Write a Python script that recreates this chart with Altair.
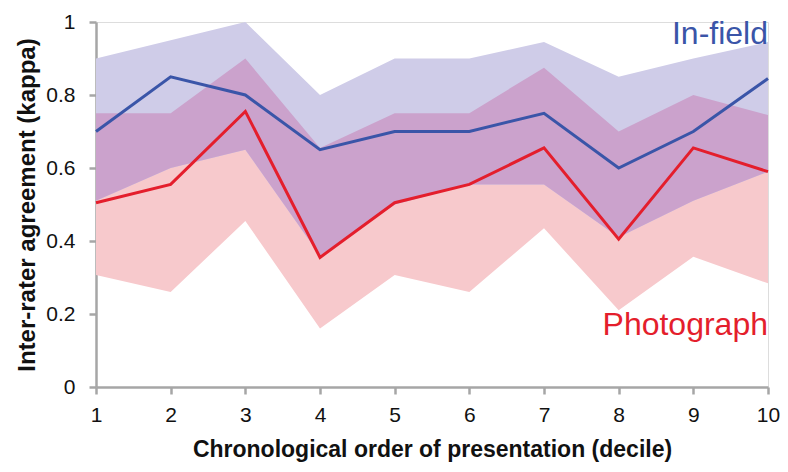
import altair as alt
import pandas as pd

decile = [1, 2, 3, 4, 5, 6, 7, 8, 9, 10]
infield_mean = [0.70, 0.85, 0.80, 0.65, 0.70, 0.70, 0.75, 0.60, 0.70, 0.845]
infield_upper = [0.90, 0.95, 1.00, 0.80, 0.90, 0.90, 0.945, 0.85, 0.90, 0.945]
infield_lower = [0.51, 0.60, 0.65, 0.36, 0.50, 0.555, 0.555, 0.41, 0.51, 0.59]
photo_mean = [0.505, 0.555, 0.755, 0.355, 0.505, 0.555, 0.655, 0.405, 0.655, 0.59]
photo_upper = [0.75, 0.75, 0.90, 0.655, 0.75, 0.75, 0.875, 0.70, 0.80, 0.745]
photo_lower = [0.307, 0.26, 0.455, 0.16, 0.307, 0.26, 0.435, 0.21, 0.357, 0.284]

y_ticks = [0, 0.2, 0.4, 0.6, 0.8, 1.0]

df = pd.DataFrame({
    "decile": decile,
    "in_mean": infield_mean, "in_up": infield_upper, "in_lo": infield_lower,
    "ph_mean": photo_mean, "ph_up": photo_upper, "ph_lo": photo_lower,
})

FONT = "Liberation Sans"
BLUE = "#3a55a8"
RED = "#e41e2c"

x_enc = alt.X("decile:Q",
              scale=alt.Scale(domain=[1, 10], nice=False),
              axis=alt.Axis(values=decile, format="d",
                            title="Chronological order of presentation (decile)",
                            grid=False, domainColor="#a6a6a6", domainWidth=2.5,
                            tickColor="#a6a6a6", tickWidth=2.5, tickSize=7,
                            labelFontSize=21, labelFont=FONT, labelColor="#111111",
                            labelPadding=10, labelFlush=False,
                            titleFont=FONT, titleFontSize=23, titleFontWeight="bold",
                            titleColor="#111111", titlePadding=13))
y_scale = alt.Scale(domain=[0, 1], nice=False)
y_axis = alt.Axis(values=y_ticks, title="Inter-rater agreement (kappa)", grid=False,
                  labelExpr="datum.value == 0 ? '0' : datum.value == 1 ? '1' : format(datum.value, '.1f')",
                  domainColor="#a6a6a6", domainWidth=2.5,
                  tickColor="#a6a6a6", tickWidth=2.5, tickSize=7,
                  labelFontSize=21, labelFont=FONT, labelColor="#111111",
                  labelPadding=14, labelFlush=False,
                  titleFont=FONT, titleFontSize=24, titleFontWeight="bold",
                  titleColor="#111111", titlePadding=6)

base = alt.Chart(df)

pink_band = base.mark_area(color="#f7c9cc", opacity=1).encode(
    x=x_enc, y=alt.Y("ph_lo:Q", scale=y_scale, axis=y_axis), y2="ph_up:Q")
lav_band = base.mark_area(color="#cfcce8", opacity=1).encode(
    x="decile:Q", y=alt.Y("in_lo:Q", scale=y_scale), y2="in_up:Q")
overlap = base.mark_area(color="#cba2cc", opacity=1).encode(
    x="decile:Q", y=alt.Y("in_lo:Q", scale=y_scale), y2="ph_up:Q")
blue_line = base.mark_line(color=BLUE, strokeWidth=3).encode(
    x="decile:Q", y=alt.Y("in_mean:Q", scale=y_scale))
red_line = base.mark_line(color=RED, strokeWidth=3).encode(
    x="decile:Q", y=alt.Y("ph_mean:Q", scale=y_scale))

labels = pd.DataFrame({"x": [10, 10], "y": [0.94, 0.142],
                       "t": ["In-field", "Photograph"], "c": [BLUE, RED]})
text = alt.Chart(labels).mark_text(align="right", baseline="alphabetic",
                                    fontSize=32, font=FONT).encode(
    x="x:Q", y=alt.Y("y:Q", scale=y_scale), text="t:N",
    color=alt.Color("c:N", scale=None))

chart = alt.layer(pink_band, lav_band, overlap, blue_line, red_line, text).properties(
    width=672, height=365,
    autosize=alt.AutoSizeParams(type="none"),
    padding={"left": 88, "top": 14, "right": 12, "bottom": 77},
).configure_view(stroke=None).configure(background="white")

chart.save("out.html", embed_options={"renderer": "svg", "actions": False})
